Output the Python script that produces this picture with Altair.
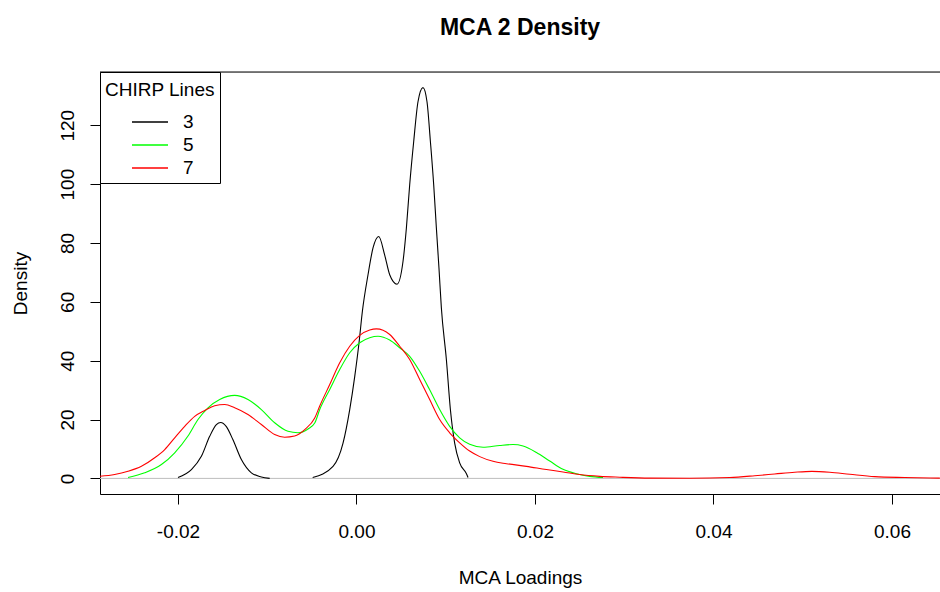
import altair as alt
import pandas as pd

# Kernel density curves of the MCA dimension-2 loadings, one per CHIRP line.
# Line 3 is near zero between its two clusters, so it is stored as two pieces.
line3a_x = [-0.0200, -0.0185, -0.01738, -0.01645, -0.0157, -0.01522, -0.01458, -0.01384,
            -0.0129, -0.01178, -0.01066, -0.00973]
line3a_y = [0.3, 3.0, 7.5, 14.3, 18.3, 19.0, 17.6, 13.1,
            6.4, 1.9, 0.5, 0.0]

line3b_x = [-0.00491, -0.00263, -0.00151, -0.00076, -0.0002, 0.00028, 0.00066, 0.00129,
            0.00185, 0.00249, 0.00316, 0.00372, 0.00454, 0.00521, 0.00559, 0.00596,
            0.00641, 0.00689, 0.00745, 0.0079, 0.00828, 0.00865, 0.00895, 0.00924,
            0.00951, 0.01007, 0.01052, 0.011, 0.01156, 0.01232, 0.0125]
line3b_y = [0.3, 4.1, 12.0, 23.4, 34.6, 46.0, 56.8, 69.2,
            78.3, 82.2, 75.9, 69.2, 66.0, 73.7, 85.1, 99.8,
            114.5, 128.0, 132.8, 128.0, 114.5, 99.8, 85.1, 71.5,
            57.9, 40.4, 23.4, 12.0, 5.3, 1.6, 0.3]

line5_x = [-0.0256, -0.02373, -0.02186, -0.02037, -0.01888, -0.01776, -0.01664, -0.01533,
           -0.01365, -0.01216, -0.01066, -0.00917, -0.00768, -0.00656, -0.00543, -0.00468,
           -0.00412, -0.003, -0.00188, -0.00076, 0.00036, 0.00148, 0.00241, 0.00372,
           0.00484, 0.00596, 0.00708, 0.0082, 0.00932, 0.01044, 0.01156, 0.01268,
           0.01418, 0.01605, 0.01754, 0.01866, 0.02016, 0.02165, 0.02314, 0.02464,
           0.02613, 0.02762]
line5_y = [0.3, 1.9, 4.7, 8.7, 14.4, 20.0, 24.0, 26.8,
           28.2, 26.8, 23.4, 18.9, 16.0, 15.5, 16.8, 18.8,
           23.4, 30.2, 37.0, 42.7, 46.1, 47.8, 48.3, 47.0,
           44.4, 41.5, 36.4, 30.1, 23.4, 17.7, 13.8, 11.6,
           10.6, 11.2, 11.5, 11.0, 8.8, 5.9, 3.1, 1.6,
           0.7, 0.3]

line7_x = [-0.02878, -0.0271, -0.0256, -0.0241, -0.02261, -0.02149, -0.02037, -0.01925,
           -0.01813, -0.01701, -0.01589, -0.01477, -0.01365, -0.01216, -0.01066, -0.00917,
           -0.00805, -0.00693, -0.0058, -0.00468, -0.00412, -0.003, -0.00188, -0.00076,
           0.00036, 0.00148, 0.00223, 0.00372, 0.00484, 0.00596, 0.00708, 0.0082,
           0.00932, 0.01044, 0.01156, 0.01268, 0.01381, 0.0153, 0.0168, 0.01904,
           0.02128, 0.02314, 0.02501, 0.02725, 0.02949, 0.03286, 0.03734, 0.04182,
           0.04462, 0.04686, 0.0491, 0.05101, 0.05302, 0.05527, 0.05807, 0.06143, 0.06536]
line7_y = [0.7, 1.3, 2.4, 4.1, 7.0, 9.8, 13.8, 17.7,
           21.1, 23.1, 24.7, 25.1, 24.0, 21.7, 18.3, 14.9,
           14.0, 14.4, 16.6, 20.5, 24.6, 31.9, 39.3, 44.9,
           48.6, 50.4, 50.8, 48.9, 44.9, 40.4, 33.6, 26.8,
           20.0, 15.5, 12.1, 9.3, 7.4, 5.8, 5.0, 4.1,
           3.0, 2.2, 1.3, 0.7, 0.4, 0.1, 0.05, 0.3,
           0.9, 1.5, 2.1, 2.4, 2.1, 1.4, 0.6, 0.3, 0.1]

line_names = ["3", "5", "7"]
line_colors = ["black", "#00FF00", "#FF0000"]

x_ticks = [-0.02, 0.0, 0.02, 0.04, 0.06]
y_ticks = [0, 20, 40, 60, 80, 100, 120]

FONT = "Liberation Sans"


def curve_frame(xs, ys, name, piece):
    return pd.DataFrame({"loading": xs, "density": ys, "line": name, "piece": piece})


curves = pd.concat([
    curve_frame(line3a_x, line3a_y, "3", "3a"),
    curve_frame(line3b_x, line3b_y, "3", "3b"),
    curve_frame(line5_x, line5_y, "5", "5"),
    curve_frame(line7_x, line7_y, "7", "7"),
], ignore_index=True)

x_scale = alt.Scale(domain=[-0.02874, 0.06538], nice=False, zero=False)
y_scale = alt.Scale(domain=[-5.3, 138.1], nice=False, zero=False)
color_scale = alt.Scale(domain=line_names, range=line_colors)

x_axis = alt.Axis(
    values=x_ticks,
    labelExpr="replace(format(datum.value, '.2f'), '\u2212', '-')",
    title="MCA Loadings",
    grid=False, tickSize=10, tickColor="black", domainColor="black",
    labelPadding=18, labelFontSize=19, labelFont=FONT, labelColor="black",
    labelFlush=False, labelOverlap=False,
    titleFontSize=19, titleFont=FONT, titleFontWeight="normal", titleColor="black",
    titleX=420, titleY=83, titleAlign="center", titleBaseline="middle",
)
y_axis = alt.Axis(
    values=y_ticks, format="d", title="Density",
    grid=False, tickSize=10, tickColor="black", domainColor="black",
    labelAngle=270, labelAlign="center", labelBaseline="alphabetic",
    labelPadding=17, labelFontSize=19, labelFont=FONT, labelColor="black",
    labelFlush=False, labelOverlap=False,
    titleFontSize=19, titleFont=FONT, titleFontWeight="normal", titleColor="black",
    titleAngle=270, titleX=-80, titleY=211, titleAlign="center", titleBaseline="middle",
)

# short horizontal stroke as the legend key (wider than its layout cell)
legend = alt.Legend(
    title="CHIRP Lines", orient="top-left", offset=0,
    titleFontSize=19, titleFont=FONT, titleFontWeight="normal", titleColor="black",
    titleAnchor="start", titleBaseline="line-top", titleLineHeight=27, titlePadding=13,
    labelFontSize=19, labelFont=FONT, labelColor="black", labelOffset=20,
    symbolType="M-1.5,0H1.5", symbolSize=576, symbolStrokeWidth=1.3, symbolOffset=32,
    rowPadding=0, padding=5, strokeColor="black", fillColor="white", cornerRadius=0,
)

x_enc = alt.X("loading:Q", scale=x_scale, axis=x_axis)
y_enc = alt.Y("density:Q", scale=y_scale, axis=y_axis)

# gray reference line at zero density
zero_line = alt.Chart(pd.DataFrame({"density": [0]})).mark_rule(
    color="#BEBEBE", strokeWidth=1
).encode(y=y_enc)

density_lines = alt.Chart(curves).mark_line(
    strokeWidth=1.1, interpolate="monotone", clip=True
).encode(
    x=x_enc,
    y=y_enc,
    color=alt.Color("line:N", scale=color_scale, legend=legend),
    detail="piece:N",
)

# upper edge of the plot frame
top_edge = alt.Chart(pd.DataFrame({"k": [0]})).mark_rule(color="black", strokeWidth=1).encode(
    x=alt.value(0), x2=alt.value(840), y=alt.value(0)
)

chart = alt.layer(zero_line, density_lines, top_edge).properties(
    width=840,
    height=422,
    padding={"left": 100, "top": 72, "right": 0, "bottom": 98},
    autosize=alt.AutoSizeParams(type="none"),
    title=alt.TitleParams(
        "MCA 2 Density", font=FONT, fontSize=23, fontWeight="bold", color="black",
        anchor="middle", baseline="alphabetic", offset=14, frame="group",
    ),
).configure_view(stroke=None).configure(font=FONT, background="white")

chart.save("out.html", embed_options={"renderer": "svg", "actions": False})
